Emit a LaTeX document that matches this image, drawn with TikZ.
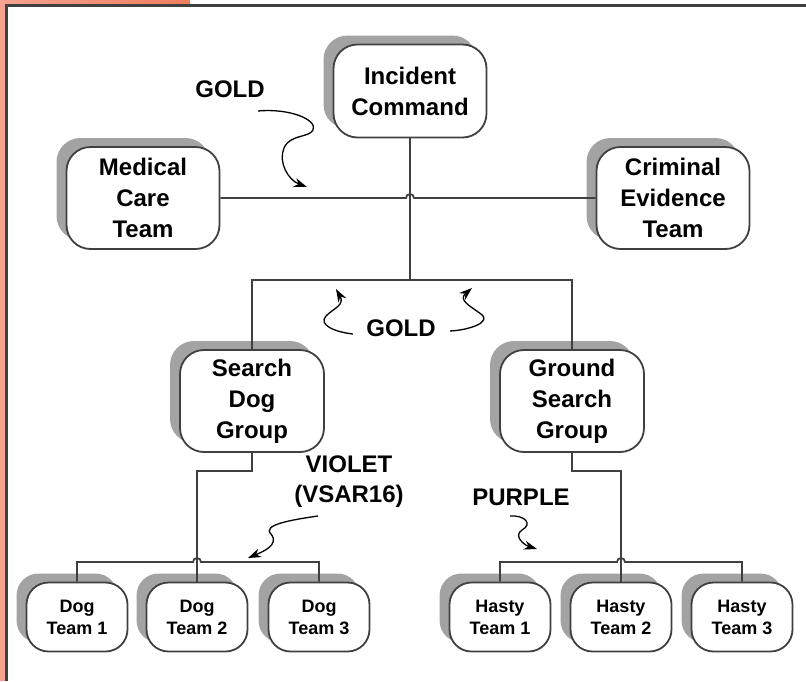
\documentclass[tikz,border=0pt]{standalone}
\usepackage{fontspec}
\setmainfont{Liberation Sans}
\usetikzlibrary{arrows.meta,shadows}
\definecolor{frameedge}{HTML}{F3A390}
\definecolor{frameend}{HTML}{EF7D5E}
\definecolor{lineclr}{HTML}{404040}
\definecolor{shadeclr}{HTML}{A3A3A3}
\tikzset{
  unit/.style={draw=lineclr, line width=1.8pt, fill=white, rounded corners=24pt,
    align=center, inner sep=0pt, font=\bfseries\fontsize{24}{31}\selectfont,
    minimum width=153pt, minimum height=102pt,
    general shadow={fill=shadeclr, shadow xshift=-10pt, shadow yshift=9pt}},
  team/.style={unit, rounded corners=22pt, font=\bfseries\fontsize{18}{22}\selectfont,
    minimum width=101pt, minimum height=69pt},
  link/.style={draw=lineclr, line width=1.8pt},
  radio/.style={font=\bfseries\fontsize{24}{30}\selectfont, align=center, inner sep=0pt},
  squiggle/.style={-{Stealth[length=13pt,width=9pt]}, line width=1.3pt}
}
\begin{document}
\begin{tikzpicture}[x=1pt,y=-1pt]
    \useasboundingbox (0,0) rectangle (806,681);
    % frame
    \fill[frameedge] (0,0) rectangle (6,681);
    \shade[left color=frameedge,right color=frameend] (0,0) rectangle (190,5);
    \draw[line width=2.5pt, black!75] (6.5,681) -- (6.5,5.5) -- (806,5.5);
    % command level
    \node[unit, minimum height=93pt] (ic) at (410,91) {Incident\\Command};
    \node[unit] (medical) at (143,198) {Medical\\Care\\Team};
    \node[unit] (criminal) at (673,198) {Criminal\\Evidence\\Team};
    % groups
    \node[unit, minimum width=144pt] (sdg) at (252,401) {Search\\Dog\\Group};
    \node[unit, minimum width=144pt] (gsg) at (572,401) {Ground\\Search\\Group};
    % teams
    \node[team] (dog1) at (77,617) {Dog\\Team 1};
    \node[team] (dog2) at (197,617) {Dog\\Team 2};
    \node[team] (dog3) at (319,617) {Dog\\Team 3};
    \node[team] (hasty1) at (500,617) {Hasty\\Team 1};
    \node[team] (hasty2) at (621,617) {Hasty\\Team 2};
    \node[team] (hasty3) at (742,617) {Hasty\\Team 3};
    % junctions
    \coordinate (staffbar) at (ic.south |- medical.east);
    \coordinate (split) at (ic.south |- 0,280);
    \coordinate (dogbar) at (197,562);
    \coordinate (hastybar) at (621,562);
    % connectors
    \draw[link] (ic.south) -- (split);
    \draw[link] (medical.east) -- ([xshift=-4pt]staffbar) arc[start angle=180,end angle=0,radius=4pt] -- (criminal.west);
    \draw[link] (sdg.north) |- (split) -| (gsg.north);
    \draw[link] (sdg.south) -- ++(0,18) -| (dog2.north);
    \draw[link] (gsg.south) -- ++(0,18) -| (hasty2.north);
    \draw[link] (dog1.north) |- ([xshift=-4pt]dogbar) arc[start angle=180,end angle=0,radius=4pt] -| (dog3.north);
    \draw[link] (hasty1.north) |- ([xshift=-4pt]hastybar) arc[start angle=180,end angle=0,radius=4pt] -| (hasty3.north);
    % radio channels
    \node[radio] (gold1) at (230,89) {GOLD};
    \node[radio] (gold2) at (401,328) {GOLD};
    \node[radio] (violet) at (349,482) {VIOLET\\(VSAR16)};
    \node[radio] (purple) at (521,497) {PURPLE};
    \draw[squiggle] (258,111) .. controls (290,108) and (318,120) .. (313,130)
        .. controls (309,138) and (290,134) .. (284,148)
        .. controls (278,162) and (288,180) .. (307,187);
    \draw[squiggle] (353,334) .. controls (335,332) and (318,325) .. (326,316)
        .. controls (334,308) and (345,305) .. (336,289);
    \draw[squiggle] (450,331) .. controls (470,330) and (492,322) .. (481,314)
        .. controls (470,306) and (458,300) .. (472,288);
    \draw[squiggle] (318,516) .. controls (290,520) and (262,525) .. (271,534)
        .. controls (280,545) and (262,552) .. (248,558);
    \draw[squiggle] (510,516) .. controls (525,515) and (533,524) .. (522,530)
        .. controls (513,536) and (524,545) .. (537,549);
\end{tikzpicture}
\end{document}
